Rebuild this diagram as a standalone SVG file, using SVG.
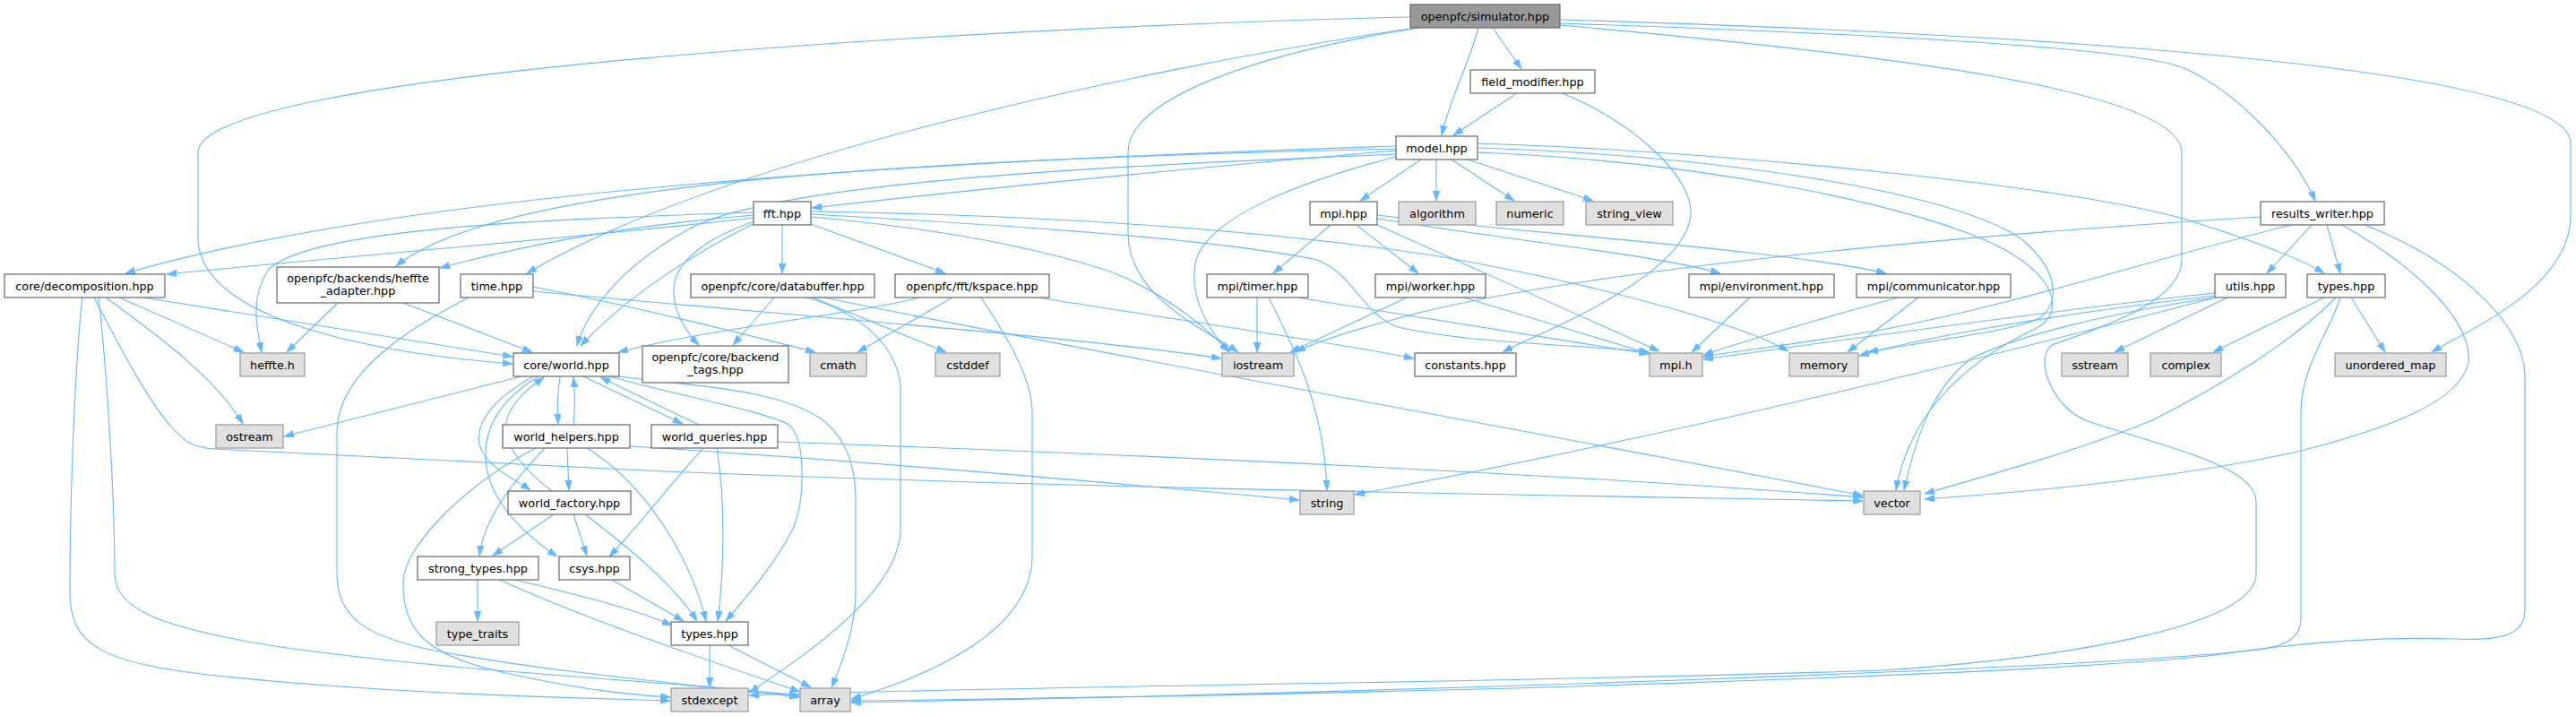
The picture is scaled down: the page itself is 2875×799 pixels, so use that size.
<svg xmlns="http://www.w3.org/2000/svg" width="2875" height="799" viewBox="0 0 2875 799">
<style>
.edge path{fill:none;stroke:#63b8ff;stroke-width:1.1;marker-end:url(#ah)}
.node rect{fill:#ffffff;stroke:#666666;stroke-width:1.2}
.ext rect{fill:#e0e0e0;stroke:#999999;stroke-width:1.2}
.root rect{fill:#999999;stroke:#666666;stroke-width:1.2}
text{font-family:"DejaVu Sans","Liberation Sans",sans-serif;font-size:12.8px;text-anchor:middle;fill:#000000}
</style>
<defs>
<marker id="ah" markerUnits="userSpaceOnUse" markerWidth="12" markerHeight="9" refX="11" refY="3.75" orient="auto">
<path d="M0,0 L11,3.75 L0,7.5 z" fill="#63b8ff" stroke="#63b8ff" stroke-width="0.8"/>
</marker>
</defs>
<rect x="0" y="0" width="2875" height="799" fill="#ffffff"/>
<g id="connectors" class="edge">
<path d="M1574,19 C1100,30 221,80 221,170 L221,265 C221,360 430,395 572,406"/>
<path d="M1580,31 C1250,80 800,180 588,305"/>
<path d="M1584,31 C1400,60 1259,110 1259,170 L1259,260 C1259,330 1340,365 1382,393"/>
<path d="M1650,31 C1640,70 1618,110 1609,151"/>
<path d="M1666,31 L1698,77"/>
<path d="M1741,26 C2150,40 2390,55 2440,77 C2500,105 2560,170 2584,224"/>
<path d="M1741,22 C2350,40 2869,80 2869,160 L2869,240 C2869,320 2760,365 2714,393"/>
<path d="M1741,28 C2100,60 2435,100 2435,170 L2435,290 C2435,340 2330,370 2290,385 C2270,400 2290,455 2330,470 C2420,500 2518,520 2518,560 L2518,640 C2518,700 2300,735 2100,748 C1700,762 1100,766 836,776"/>
<path d="M1693,104 L1622,151"/>
<path d="M1744,104 C1830,140 1890,200 1887,240 C1880,310 1720,370 1677,393"/>
<path d="M1558,163 C1200,175 500,200 140,305"/>
<path d="M1558,166 C1050,178 560,200 442,297"/>
<path d="M1558,172 C1250,185 900,200 780,250 C700,290 655,345 644,386"/>
<path d="M1558,168 C1300,190 1100,210 906,232"/>
<path d="M1586,178 L1518,224"/>
<path d="M1603,178 L1603,224"/>
<path d="M1620,178 L1690,224"/>
<path d="M1638,178 L1778,224"/>
<path d="M1558,175 C1460,200 1350,240 1335,290 C1325,330 1350,370 1372,393"/>
<path d="M1649,160 C1900,168 2300,205 2440,245 C2520,270 2570,290 2594,305"/>
<path d="M1649,165 C1950,175 2200,220 2260,270 C2300,305 2300,345 2270,358 C2230,372 2150,380 2085,393"/>
<path d="M1649,170 C1900,180 2150,230 2240,280 C2300,315 2300,350 2275,365 C2180,410 2130,470 2116,547"/>
<path d="M1485,251 L1421,305"/>
<path d="M1514,251 L1583,305"/>
<path d="M1537,244 C1700,270 1850,285 1920,305"/>
<path d="M1537,240 C1700,260 2000,280 2105,305"/>
<path d="M1537,251 L1852,392"/>
<path d="M841,243 C700,260 400,285 186,306"/>
<path d="M841,240 C700,252 600,270 491,299"/>
<path d="M841,237 C600,245 350,255 300,300 C280,330 285,360 292,393"/>
<path d="M842,249 C760,290 690,340 648,386"/>
<path d="M873,251 L873,305"/>
<path d="M905,250 L1055,305"/>
<path d="M842,247 C790,265 755,290 752,320 C750,345 765,370 780,385"/>
<path d="M905,242 C1050,255 1150,275 1230,300 C1290,320 1340,360 1372,392"/>
<path d="M905,236 C1150,240 1400,255 1600,285 C1800,320 1950,365 1996,392"/>
<path d="M905,239 C1100,250 1350,265 1470,290 C1510,305 1520,350 1560,365 C1650,385 1780,385 1840,393"/>
<path d="M2523,242 C2150,265 1800,300 1600,345 C1520,365 1470,380 1446,393"/>
<path d="M2557,251 C2400,290 2250,340 2100,368 C2000,385 1950,390 1901,398"/>
<path d="M2580,251 L2530,305"/>
<path d="M2597,251 L2612,305"/>
<path d="M2614,251 C2700,300 2760,360 2755,405 C2745,450 2660,480 2560,505 C2420,535 2250,550 2148,557"/>
<path d="M2639,251 C2740,290 2818,360 2818,420 L2818,680 C2818,710 2790,715 2740,713 C2650,710 2560,718 2480,730 C2300,752 1600,775 950,782"/>
<path d="M133,332 L272,393"/>
<path d="M160,332 L572,398"/>
<path d="M118,332 C170,370 240,420 271,473"/>
<path d="M105,332 C125,370 160,440 190,475 C205,492 215,500 240,501 L720,525 C1200,545 1700,552 2079,559"/>
<path d="M92,332 C84,400 78,550 78,660 C78,720 110,740 250,755 C450,775 620,778 748,782"/>
<path d="M110,332 C120,420 128,560 128,640 C128,680 180,700 300,720 C500,750 750,760 892,776"/>
<path d="M377,338 L320,393"/>
<path d="M450,338 L594,393"/>
<path d="M595,320 C700,340 820,370 910,393"/>
<path d="M595,325 C800,345 1200,375 1363,400"/>
<path d="M523,332 C470,360 378,410 376,480 L376,640 C376,690 410,710 480,725 C620,752 800,766 892,778"/>
<path d="M1026,332 C960,350 800,365 690,393"/>
<path d="M1063,332 L957,393"/>
<path d="M1159,332 C1300,355 1480,380 1578,400"/>
<path d="M1095,332 C1120,370 1152,420 1152,460 L1152,620 C1152,700 1050,750 950,780"/>
<path d="M864,332 L818,385"/>
<path d="M907,332 L1056,393"/>
<path d="M900,332 C950,345 1000,380 1005,430 L1005,590 C1005,660 900,730 836,773"/>
<path d="M920,332 C1150,380 1700,480 2079,553"/>
<path d="M1403,332 L1403,393"/>
<path d="M1416,332 C1440,380 1478,450 1481,547"/>
<path d="M1448,332 L1840,395"/>
<path d="M1570,332 L1440,393"/>
<path d="M1634,332 L1842,395"/>
<path d="M1953,332 L1888,393"/>
<path d="M2119,332 C2050,350 1950,380 1901,396"/>
<path d="M2141,332 L2062,393"/>
<path d="M2472,327 C2300,345 2050,380 1901,401"/>
<path d="M2472,330 C2300,350 2150,375 2075,397"/>
<path d="M2473,332 C2250,390 1900,480 1512,552"/>
<path d="M2472,332 C2350,350 2250,375 2200,400 C2160,430 2140,480 2125,547"/>
<path d="M2486,332 L2360,393"/>
<path d="M2594,332 L2470,393"/>
<path d="M2607,332 C2560,380 2480,430 2400,470 C2300,510 2200,535 2148,551"/>
<path d="M2612,332 C2600,370 2568,410 2568,460 L2568,690 C2568,715 2545,722 2520,725 C2350,745 1600,772 950,784"/>
<path d="M2624,332 L2662,393"/>
<path d="M582,420 L317,487"/>
<path d="M625,420 C622,440 622,455 623,473"/>
<path d="M595,420 C560,440 530,465 535,495 C540,520 575,535 592,547"/>
<path d="M601,420 C560,445 541,475 542,510 C543,560 590,600 622,621"/>
<path d="M651,420 L762,473"/>
<path d="M680,420 C750,440 860,460 882,475 C900,495 898,560 885,590 C865,630 830,670 810,693"/>
<path d="M682,419 C760,430 870,432 920,470 C950,495 955,530 955,560 L955,660 C955,700 940,740 928,767"/>
<path d="M640,474 C642,455 642,440 640,421"/>
<path d="M633,500 L635,547"/>
<path d="M608,500 C570,540 540,580 535,620"/>
<path d="M655,500 C720,540 770,620 788,693"/>
<path d="M598,500 C520,540 450,610 450,650 C450,700 470,730 560,750 C650,770 700,775 748,778"/>
<path d="M703,498 C900,510 1200,535 1450,558"/>
<path d="M780,474 L670,421"/>
<path d="M785,500 C740,550 710,590 680,621"/>
<path d="M800,500 C810,560 808,640 801,693"/>
<path d="M868,493 C1200,505 1700,525 2079,555"/>
<path d="M616,548 C585,525 560,495 565,470 C572,445 595,430 607,421"/>
<path d="M618,574 L550,620"/>
<path d="M640,574 L655,620"/>
<path d="M653,574 C700,610 750,650 778,693"/>
<path d="M533,647 L533,693"/>
<path d="M575,647 C650,665 710,680 750,698"/>
<path d="M558,647 C650,690 800,740 893,772"/>
<path d="M683,647 L763,693"/>
<path d="M792,720 L792,767"/>
<path d="M813,720 L905,767"/>
</g>
<g id="simulator" class="root"><rect x="1574" y="5" width="167" height="26"/><text x="1657.5" y="22.5">openpfc/simulator.hpp</text></g>
<g id="field_modifier" class="node"><rect x="1641" y="78" width="139" height="26"/><text x="1710.5" y="95.5">field_modifier.hpp</text></g>
<g id="model" class="node"><rect x="1558" y="152" width="91" height="26"/><text x="1603.5" y="169.5">model.hpp</text></g>
<g id="mpi_hpp" class="node"><rect x="1462" y="225" width="75" height="26"/><text x="1499.5" y="242.5">mpi.hpp</text></g>
<g id="algorithm" class="ext"><rect x="1561" y="225" width="86" height="26"/><text x="1604" y="242.5">algorithm</text></g>
<g id="numeric" class="ext"><rect x="1670" y="225" width="75" height="26"/><text x="1707.5" y="242.5">numeric</text></g>
<g id="string_view" class="ext"><rect x="1770" y="225" width="97" height="26"/><text x="1818.5" y="242.5">string_view</text></g>
<g id="fft" class="node"><rect x="841" y="225" width="64" height="26"/><text x="873" y="242.5">fft.hpp</text></g>
<g id="results_writer" class="node"><rect x="2523" y="225" width="138" height="26"/><text x="2592" y="242.5">results_writer.hpp</text></g>
<g id="decomposition" class="node"><rect x="5" y="306" width="179" height="26"/><text x="94.5" y="323.5">core/decomposition.hpp</text></g>
<g id="heffte_adapter" class="node"><rect x="309" y="298" width="181" height="40"/><text x="399.5" y="314.5">openpfc/backends/heffte</text><text x="399.5" y="329">_adapter.hpp</text></g>
<g id="time" class="node"><rect x="514" y="306" width="81" height="26"/><text x="554.5" y="323.5">time.hpp</text></g>
<g id="databuffer" class="node"><rect x="771" y="306" width="205" height="26"/><text x="873.5" y="323.5">openpfc/core/databuffer.hpp</text></g>
<g id="kspace" class="node"><rect x="999" y="306" width="172" height="26"/><text x="1085" y="323.5">openpfc/fft/kspace.hpp</text></g>
<g id="mpi_timer" class="node"><rect x="1347" y="306" width="113" height="26"/><text x="1403.5" y="323.5">mpi/timer.hpp</text></g>
<g id="mpi_worker" class="node"><rect x="1535" y="306" width="123" height="26"/><text x="1596.5" y="323.5">mpi/worker.hpp</text></g>
<g id="mpi_environment" class="node"><rect x="1885" y="306" width="162" height="26"/><text x="1966" y="323.5">mpi/environment.hpp</text></g>
<g id="mpi_communicator" class="node"><rect x="2072" y="306" width="172" height="26"/><text x="2158" y="323.5">mpi/communicator.hpp</text></g>
<g id="utils" class="node"><rect x="2472" y="306" width="79" height="26"/><text x="2511.5" y="323.5">utils.hpp</text></g>
<g id="types_top" class="node"><rect x="2575" y="306" width="87" height="26"/><text x="2618.5" y="323.5">types.hpp</text></g>
<g id="heffte_h" class="ext"><rect x="268" y="394" width="72" height="26"/><text x="304" y="411.5">heffte.h</text></g>
<g id="world" class="node"><rect x="573" y="394" width="118" height="26"/><text x="632" y="411.5">core/world.hpp</text></g>
<g id="backend_tags" class="node"><rect x="717" y="386" width="163" height="41"/><text x="798.5" y="402.5">openpfc/core/backend</text><text x="798.5" y="417">_tags.hpp</text></g>
<g id="cmath" class="ext"><rect x="904" y="394" width="63" height="26"/><text x="935.5" y="411.5">cmath</text></g>
<g id="cstddef" class="ext"><rect x="1044" y="394" width="72" height="26"/><text x="1080" y="411.5">cstddef</text></g>
<g id="iostream" class="ext"><rect x="1364" y="394" width="80" height="26"/><text x="1404" y="411.5">iostream</text></g>
<g id="constants" class="node"><rect x="1579" y="394" width="113" height="26"/><text x="1635.5" y="411.5">constants.hpp</text></g>
<g id="mpi_h" class="ext"><rect x="1841" y="394" width="59" height="26"/><text x="1870.5" y="411.5">mpi.h</text></g>
<g id="memory" class="ext"><rect x="1997" y="394" width="77" height="26"/><text x="2035.5" y="411.5">memory</text></g>
<g id="sstream" class="ext"><rect x="2301" y="394" width="74" height="26"/><text x="2338" y="411.5">sstream</text></g>
<g id="complex" class="ext"><rect x="2400" y="394" width="79" height="26"/><text x="2439.5" y="411.5">complex</text></g>
<g id="unordered_map" class="ext"><rect x="2606" y="394" width="124" height="26"/><text x="2668" y="411.5">unordered_map</text></g>
<g id="ostream" class="ext"><rect x="241" y="474" width="75" height="26"/><text x="278.5" y="491.5">ostream</text></g>
<g id="world_helpers" class="node"><rect x="561" y="474" width="142" height="26"/><text x="632" y="491.5">world_helpers.hpp</text></g>
<g id="world_queries" class="node"><rect x="727" y="474" width="141" height="26"/><text x="797.5" y="491.5">world_queries.hpp</text></g>
<g id="string" class="ext"><rect x="1451" y="548" width="60" height="26"/><text x="1481" y="565.5">string</text></g>
<g id="vector" class="ext"><rect x="2080" y="548" width="63" height="26"/><text x="2111.5" y="565.5">vector</text></g>
<g id="world_factory" class="node"><rect x="567" y="548" width="137" height="26"/><text x="635.5" y="565.5">world_factory.hpp</text></g>
<g id="strong_types" class="node"><rect x="466" y="621" width="135" height="26"/><text x="533.5" y="638.5">strong_types.hpp</text></g>
<g id="csys" class="node"><rect x="624" y="621" width="79" height="26"/><text x="663.5" y="638.5">csys.hpp</text></g>
<g id="type_traits" class="ext"><rect x="487" y="694" width="92" height="26"/><text x="533" y="711.5">type_traits</text></g>
<g id="types_core" class="node"><rect x="749" y="694" width="86" height="26"/><text x="792" y="711.5">types.hpp</text></g>
<g id="stdexcept" class="ext"><rect x="749" y="768" width="86" height="26"/><text x="792" y="785.5">stdexcept</text></g>
<g id="array" class="ext"><rect x="893" y="768" width="56" height="26"/><text x="921" y="785.5">array</text></g>
</svg>
